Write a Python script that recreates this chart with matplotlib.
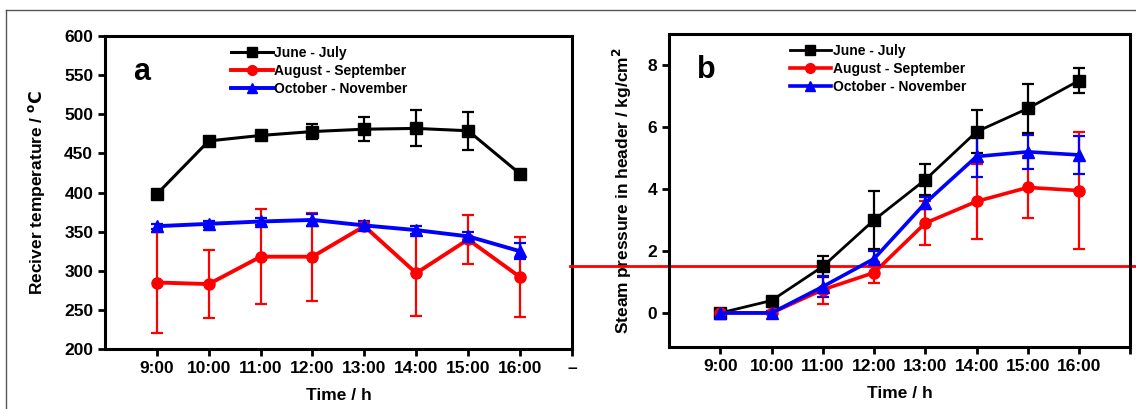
import matplotlib
matplotlib.use("Agg")
import matplotlib.pyplot as plt
from matplotlib.lines import Line2D

plt.rcParams["font.family"] = ["Liberation Sans", "DejaVu Sans"]
plt.rcParams["font.weight"] = "bold"

hours = [9, 10, 11, 12, 13, 14, 15, 16]
hour_labels = ["9:00", "10:00", "11:00", "12:00", "13:00", "14:00", "15:00", "16:00"]
series_names = ["June - July", "August - September", "October - November"]

# panel a: receiver temperature (deg C)
temp_jun = [398, 466, 473, 478, 481, 482, 479, 424]
temp_jun_err = [2, 5, 6, 10, 15, 23, 24, 3]
temp_aug = [285, 283, 318, 318, 357, 297, 340, 292]
temp_aug_err = [65, 43, 61, 56, 5, 55, 31, 51]
temp_oct = [357, 360, 363, 365, 358, 352, 344, 325]
temp_oct_err = [3, 4, 5, 8, 5, 5, 5, 10]

# panel b: steam pressure in header (kg/cm2)
pres_jun = [0.0, 0.4, 1.5, 3.0, 4.3, 5.85, 6.6, 7.5]
pres_jun_err = [0.05, 0.05, 0.35, 0.95, 0.5, 0.7, 0.8, 0.4]
pres_aug = [0.0, 0.0, 0.75, 1.3, 2.9, 3.6, 4.05, 3.95]
pres_aug_err = [0.05, 0.05, 0.45, 0.35, 0.7, 1.2, 1.0, 1.9]
pres_oct = [0.0, 0.0, 0.85, 1.75, 3.55, 5.05, 5.2, 5.1]
pres_oct_err = [0.05, 0.05, 0.35, 0.25, 0.2, 0.65, 0.55, 0.6]
threshold = 1.5

colors = ["black", "#ff0000", "#0000ff"]
markers = ["s", "o", "^"]

fig = plt.figure(figsize=(11.36, 4.09), dpi=100)
ax1 = fig.add_axes([0.0924, 0.1467, 0.411, 0.765])
ax2 = fig.add_axes([0.589, 0.1516, 0.406, 0.765])

# outer frame (top and left edges visible)
fig.add_artist(Line2D([6 / 1136, 1.0], [1 - 10 / 409, 1 - 10 / 409], color="#555555", lw=1))
fig.add_artist(Line2D([6 / 1136, 6 / 1136], [0, 1 - 10 / 409], color="#555555", lw=1))


def style_axes(ax):
    for sp in ax.spines.values():
        sp.set_linewidth(2.2)
    ax.tick_params(direction="out", length=5, width=2, labelsize=12.5, top=False, right=False)
    for lbl in ax.get_xticklabels() + ax.get_yticklabels():
        lbl.set_fontweight("bold")


def plot_panel(ax, data, widths):
    handles = []
    for (vals, errs), name, c, m, lw in zip(data, series_names, colors, markers, widths):
        ax.errorbar(hours, vals, yerr=errs, color=c, marker=m, markersize=8, lw=lw,
                    elinewidth=1.6, capsize=4, capthick=1.6)
        handles.append(Line2D([], [], color=c, marker=m, markersize=7, lw=lw, label=name))
    return handles


legend_kw = dict(frameon=False, handlelength=3.0, handletextpad=0.1, labelspacing=0.3,
                 borderpad=0.2, prop={"weight": "bold", "size": 10})

data_a = [(temp_jun, temp_jun_err), (temp_aug, temp_aug_err), (temp_oct, temp_oct_err)]
handles_a = plot_panel(ax1, data_a, [2.2, 2.8, 2.8])
ax1.set_xlim(8, 17)
ax1.set_ylim(200, 600)
ax1.set_yticks(range(200, 601, 50))
ax1.set_xticks(hours + [17])
ax1.set_xticklabels(hour_labels + ["\u2013"])
ax1.set_xlabel("Time / h", fontsize=12.5, fontweight="bold", labelpad=9)
ax1.set_ylabel("Reciver temperature / $\\mathbf{^{o}C}$", fontsize=12.5, fontweight="bold", labelpad=12)
ax1.text(0.06, 0.86, "a", transform=ax1.transAxes, fontsize=22, fontweight="bold")
ax1.legend(handles=handles_a, loc="upper left", bbox_to_anchor=(0.25, 1.0), **legend_kw)
style_axes(ax1)

data_b = [(pres_jun, pres_jun_err), (pres_aug, pres_aug_err), (pres_oct, pres_oct_err)]
handles_b = plot_panel(ax2, data_b, [2.0, 2.6, 2.6])
ax2.axhline(threshold, xmin=-0.215, xmax=1.02, color="#ff0000", lw=2, clip_on=False)
ax2.set_xlim(8, 17)
ax2.set_ylim(-1.1, 9)
ax2.set_yticks([0, 2, 4, 6, 8])
ax2.set_xticks(hours + [17])
ax2.set_xticklabels(hour_labels + [""])
ax2.set_xlabel("Time / h", fontsize=12.5, fontweight="bold", labelpad=9)
ax2.set_ylabel("Steam pressure in header / kg/cm$\\mathbf{^2}$", fontsize=12.5, fontweight="bold", labelpad=10)
ax2.text(0.06, 0.86, "b", transform=ax2.transAxes, fontsize=22, fontweight="bold")
ax2.legend(handles=handles_b, loc="upper left", bbox_to_anchor=(0.24, 1.0), **legend_kw)
style_axes(ax2)

fig.savefig("out.png", dpi=100)
